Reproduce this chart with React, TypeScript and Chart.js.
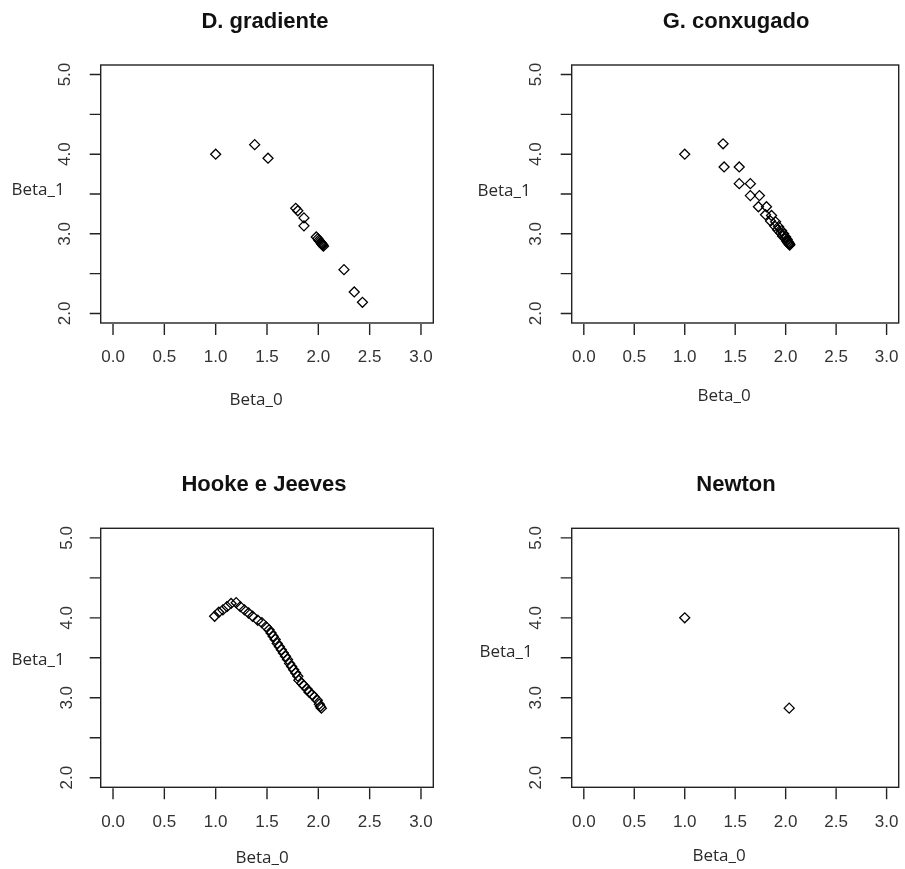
import React, { useEffect, useRef } from 'react';
import { Chart, registerables } from 'chart.js';

Chart.register(...registerables);

// ---------- data ----------
const panelTitles = ['D. gradiente', 'G. conxugado', 'Hooke e Jeeves', 'Newton'];
const xAxisTitle = 'Beta_0';
const yAxisTitle = 'Beta_1';

const xTicks = [0, 0.5, 1, 1.5, 2, 2.5, 3];
const xTickLabels = ['0.0', '0.5', '1.0', '1.5', '2.0', '2.5', '3.0'];
const yTicks = [2, 2.5, 3, 3.5, 4, 4.5, 5];
const yTickLabels = ['2.0', '', '3.0', '', '4.0', '', '5.0'];
const xLimits = [-0.12, 3.12];
const yLimits = [1.88, 5.12];

const gradBeta0 = [1.0, 1.38, 1.51, 1.78, 1.80, 1.86, 1.86, 1.98, 1.995, 2.005, 2.015, 2.025, 2.03, 2.035, 2.04, 2.045, 2.05, 2.25, 2.35, 2.43];
const gradBeta1 = [4.0, 4.12, 3.95, 3.32, 3.29, 3.20, 3.10, 2.96, 2.94, 2.92, 2.905, 2.89, 2.88, 2.87, 2.865, 2.855, 2.845, 2.55, 2.27, 2.14];

const conjBeta0 = [1.0, 1.38, 1.39, 1.54, 1.54, 1.65, 1.65, 1.74, 1.73, 1.81, 1.80, 1.86, 1.85, 1.90, 1.89, 1.93, 1.92, 1.96, 1.95, 1.98, 1.97, 2.0, 1.995, 2.015, 2.01, 2.025, 2.02, 2.035, 2.03, 2.04, 2.04];
const conjBeta1 = [4.0, 4.13, 3.84, 3.84, 3.63, 3.63, 3.48, 3.48, 3.34, 3.34, 3.24, 3.23, 3.16, 3.15, 3.10, 3.09, 3.05, 3.04, 3.01, 3.0, 2.97, 2.96, 2.94, 2.93, 2.91, 2.90, 2.89, 2.88, 2.875, 2.87, 2.86];

const hjBeta0 = [0.99, 1.03, 1.07, 1.11, 1.15, 1.20, 1.24, 1.28, 1.32, 1.36, 1.41, 1.45, 1.49, 1.52, 1.54, 1.56, 1.58, 1.60, 1.62, 1.64, 1.66, 1.68, 1.70, 1.72, 1.74, 1.76, 1.78, 1.80, 1.81, 1.84, 1.86, 1.89, 1.91, 1.94, 1.96, 1.99, 2.01, 2.02, 2.03];
const hjBeta1 = [4.02, 4.07, 4.10, 4.14, 4.18, 4.19, 4.14, 4.10, 4.06, 4.02, 3.97, 3.94, 3.89, 3.85, 3.81, 3.77, 3.73, 3.68, 3.64, 3.60, 3.56, 3.52, 3.48, 3.43, 3.39, 3.35, 3.31, 3.27, 3.22, 3.18, 3.15, 3.11, 3.07, 3.04, 3.01, 2.97, 2.92, 2.89, 2.87];

const newtonBeta0 = [1.0, 2.035];
const newtonBeta1 = [4.0, 2.87];

const seriesX = [gradBeta0, conjBeta0, hjBeta0, newtonBeta0];
const seriesY = [gradBeta1, conjBeta1, hjBeta1, newtonBeta1];

// ---------- layout (canvas-relative positions) ----------
type Panel = {
  left: number; top: number; w: number; h: number;
  pad: { left: number; top: number; right: number; bottom: number };
  titleX: number; titleY: number;
  ylabX: number; ylabY: number;
  xlabX: number; xlabY: number;
  yTickLabX: number; xTickLabY: number;
};

const panels: Panel[] = [
  { left: 0, top: 0, w: 452, h: 434, pad: { left: 100.7, top: 65, right: 18.7, bottom: 111 },
    titleX: 265, titleY: 22, ylabX: 38, ylabY: 190, xlabX: 256, xlabY: 400, yTickLabX: 65, xTickLabY: 357 },
  { left: 452, top: 0, w: 453, h: 434, pad: { left: 119.7, top: 65, right: 1.7, bottom: 111 },
    titleX: 284, titleY: 22, ylabX: 52, ylabY: 191, xlabX: 272, xlabY: 396, yTickLabX: 84, xTickLabY: 357 },
  { left: 0, top: 434, w: 452, h: 435, pad: { left: 100.7, top: 94.3, right: 18.7, bottom: 81.7 },
    titleX: 264, titleY: 51, ylabX: 38, ylabY: 226, xlabX: 262, xlabY: 424, yTickLabX: 67.5, xTickLabY: 388.5 },
  { left: 452, top: 434, w: 453, h: 435, pad: { left: 119.7, top: 94.3, right: 1.7, bottom: 81.7 },
    titleX: 284, titleY: 51, ylabX: 54, ylabY: 218, xlabX: 267, xlabY: 422, yTickLabX: 84, xTickLabY: 388.5 },
];

const INK = '#222222';
const TICK_FONT = '17px "Liberation Sans", Arial, sans-serif';
const TITLE_FONT = 'bold 22px "Liberation Sans", Arial, sans-serif';
const LAB_FONT = '17px "Open Sans", "DejaVu Sans", sans-serif';

function makeRPlugin(p: Panel, title: string) {
  return {
    id: 'rAxes',
    afterDraw(chart: any) {
      const ctx = chart.ctx as CanvasRenderingContext2D;
      const a = chart.chartArea;
      const xs = chart.scales.x;
      const ys = chart.scales.y;
      ctx.save();
      ctx.strokeStyle = INK;
      ctx.lineWidth = 1.4;
      // box
      ctx.strokeRect(a.left, a.top, a.right - a.left, a.bottom - a.top);
      // x ticks
      ctx.beginPath();
      xTicks.forEach((v) => {
        const px = xs.getPixelForValue(v);
        ctx.moveTo(px, a.bottom + 1);
        ctx.lineTo(px, a.bottom + 12);
      });
      // y ticks
      yTicks.forEach((v) => {
        const py = ys.getPixelForValue(v);
        ctx.moveTo(a.left - 11, py);
        ctx.lineTo(a.left, py);
      });
      ctx.stroke();
      // x tick labels
      ctx.fillStyle = '#333333';
      ctx.font = TICK_FONT;
      ctx.textAlign = 'center';
      ctx.textBaseline = 'middle';
      xTicks.forEach((v, i) => {
        ctx.fillText(xTickLabels[i], xs.getPixelForValue(v), p.xTickLabY);
      });
      // y tick labels (rotated, R style)
      yTicks.forEach((v, i) => {
        const lab = yTickLabels[i];
        if (!lab) return;
        ctx.save();
        ctx.translate(p.yTickLabX, ys.getPixelForValue(v));
        ctx.rotate(-Math.PI / 2);
        ctx.fillText(lab, 0, 0);
        ctx.restore();
      });
      // axis titles
      ctx.fillStyle = '#2a2a2a';
      ctx.font = LAB_FONT;
      ctx.fillText(xAxisTitle, p.xlabX, p.xlabY);
      ctx.fillText(yAxisTitle, p.ylabX, p.ylabY);
      // main title
      ctx.fillStyle = '#111111';
      ctx.font = TITLE_FONT;
      ctx.fillText(title, p.titleX, p.titleY);
      ctx.restore();
    },
  };
}

function PanelChart({ idx }: { idx: number }) {
  const ref = useRef<HTMLCanvasElement | null>(null);
  const p = panels[idx];
  useEffect(() => {
    if (!ref.current) return;
    const pts = seriesX[idx].map((x, i) => ({ x, y: seriesY[idx][i] }));
    const chart = new Chart(ref.current, {
      type: 'scatter',
      data: {
        datasets: [
          {
            label: panelTitles[idx],
            data: pts,
            pointStyle: 'rectRot',
            pointRadius: 5,
            pointBorderWidth: 1.3,
            borderColor: '#000000',
            backgroundColor: 'rgba(0,0,0,0)',
            pointHoverRadius: 5,
          },
        ],
      },
      options: {
        animation: false,
        responsive: false,
        devicePixelRatio: 1,
        events: [],
        layout: { padding: p.pad },
        plugins: {
          legend: { display: false },
          title: { display: false },
          tooltip: { enabled: false },
        },
        scales: {
          x: { type: 'linear', min: xLimits[0], max: xLimits[1], display: false },
          y: { type: 'linear', min: yLimits[0], max: yLimits[1], display: false },
        },
      },
      plugins: [makeRPlugin(p, panelTitles[idx])],
    });
    return () => chart.destroy();
  }, [idx]);
  return (
    <canvas
      ref={ref}
      width={p.w}
      height={p.h}
      style={{ position: 'absolute', left: p.left, top: p.top, width: p.w, height: p.h, display: 'block' }}
    />
  );
}

export default function App() {
  return (
    <div style={{ position: 'absolute', left: 0, top: 0, width: 905, height: 869, background: '#ffffff', overflow: 'hidden' }}>
      {panels.map((_, i) => (
        <PanelChart key={i} idx={i} />
      ))}
    </div>
  );
}
